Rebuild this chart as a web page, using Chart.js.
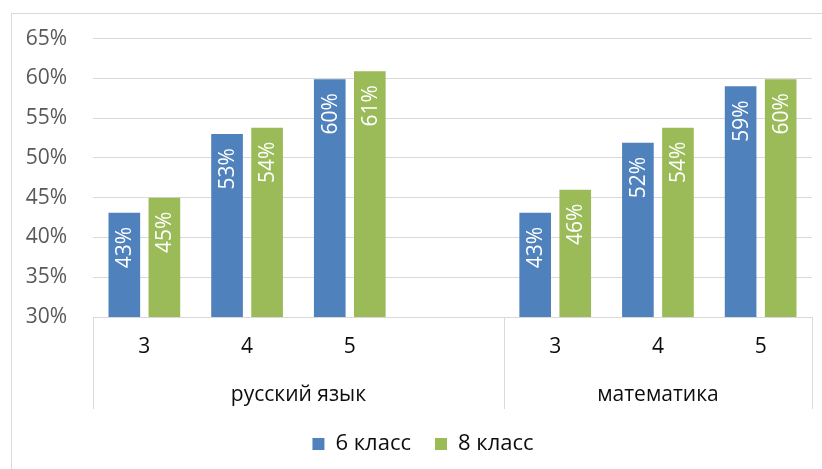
<!DOCTYPE html>
<html>
<head>
<meta charset="utf-8">
<script src="https://cdn.jsdelivr.net/npm/chart.js@4"></script>
<style>
  html, body { margin: 0; padding: 0; background: #fff; }
  #wrap { width: 822px; height: 469px; }
</style>
</head>
<body>
<div id="wrap"><canvas id="chart-area" width="822" height="469"></canvas></div>
<script>
var grades = ['3', '4', '5', '', '3', '4', '5'];
var subjects = ['русский язык', 'математика'];
var subjectSpans = [[0, 3], [4, 6]];
var class6 = [43.1, 53.0, 59.9, null, 43.1, 51.9, 59.0];
var class8 = [45.0, 53.8, 60.9, null, 46.0, 53.8, 59.9];
var seriesNames = ['6 класс', '8 класс'];

var chartColors = {
  blue: '#4f81bd',
  green: '#9bbb59',
  grid: '#d9d9d9',
  axisText: '#595959',
  text: '#0d0d0d'
};
var FONT = "'Open Sans', sans-serif";

// rotated value labels inside the top of each bar
var barLabels = {
  id: 'barLabels',
  afterDatasetsDraw: function(chart) {
    var ctx = chart.ctx;
    chart.data.datasets.forEach(function(ds, i) {
      var meta = chart.getDatasetMeta(i);
      meta.data.forEach(function(bar, j) {
        var v = ds.data[j];
        if (v === null) return;
        ctx.save();
        ctx.translate(bar.x, bar.y + 14);
        ctx.rotate(-Math.PI / 2);
        ctx.font = '21px ' + FONT;
        ctx.fillStyle = '#fff';
        ctx.textAlign = 'right';
        ctx.textBaseline = 'middle';
        ctx.fillText(Math.round(v) + '%', 0, 1);
        ctx.restore();
      });
    });
  }
};

// outer frame, group separators and subject labels
var frameAndGroups = {
  id: 'frameAndGroups',
  afterLayout: function(chart) {
    // legend sits a bit right of the canvas centre in the original
    if (chart.legend) chart.legend.left += 34;
  },
  beforeDraw: function(chart) {
    var ctx = chart.ctx;
    ctx.save();
    ctx.strokeStyle = chartColors.grid;
    ctx.lineWidth = 1;
    ctx.strokeRect(11.5, 13.5, 1000, 1000);
    ctx.restore();
  },
  afterDraw: function(chart) {
    var ctx = chart.ctx;
    var x = chart.scales.x;
    var area = chart.chartArea;
    var step = (area.right - area.left) / grades.length;
    var top = area.bottom;
    var bottom = x.bottom;
    ctx.save();
    ctx.strokeStyle = chartColors.grid;
    ctx.lineWidth = 1;
    var edges = [area.left];
    subjectSpans.forEach(function(s) { edges.push(area.left + (s[1] + 1) * step); });
    edges.forEach(function(ex) {
      var px = Math.round(ex) + 0.5;
      ctx.beginPath();
      ctx.moveTo(px, top);
      ctx.lineTo(px, bottom);
      ctx.stroke();
    });
    ctx.font = '21px ' + FONT;
    ctx.fillStyle = chartColors.text;
    ctx.textAlign = 'center';
    ctx.textBaseline = 'middle';
    subjects.forEach(function(name, k) {
      var s = subjectSpans[k];
      var left = area.left + s[0] * step;
      var right = area.left + (s[1] + 1) * step;
      ctx.fillText(name, (left + right) / 2, 395);
    });
    ctx.restore();
  }
};

var config = {
  type: 'bar',
  data: {
    labels: grades,
    datasets: [{
      label: seriesNames[0],
      data: class6,
      backgroundColor: chartColors.blue,
      barPercentage: 0.79,
      categoryPercentage: 0.78
    }, {
      label: seriesNames[1],
      data: class8,
      backgroundColor: chartColors.green,
      barPercentage: 0.79,
      categoryPercentage: 0.78
    }]
  },
  options: {
    responsive: false,
    animation: false,
    layout: { padding: { top: 37, right: 10, bottom: 4, left: 0 } },
    plugins: {
      legend: {
        display: true,
        position: 'bottom',
        labels: {
          boxWidth: 12,
          boxHeight: 12,
          padding: 24,
          color: chartColors.text,
          font: { family: FONT, size: 22 }
        }
      },
      tooltip: { enabled: false }
    },
    scales: {
      y: {
        min: 30,
        max: 65,
        ticks: {
          stepSize: 5,
          padding: 26,
          color: chartColors.axisText,
          font: { family: FONT, size: 21 },
          callback: function(v) { return v + '%'; }
        },
        grid: { color: chartColors.grid, drawTicks: false },
        border: { display: false },
        afterFit: function(scale) { scale.width = 93; }
      },
      x: {
        ticks: {
          padding: 17,
          color: chartColors.text,
          font: { family: FONT, size: 21 }
        },
        grid: { display: false, drawTicks: false },
        border: { color: chartColors.grid },
        afterFit: function(scale) { scale.height = 92; }
      }
    }
  },
  plugins: [barLabels, frameAndGroups]
};

window.onload = function() {
  var ctx = document.getElementById('chart-area').getContext('2d');
  window.myBar = new Chart(ctx, config);
};
</script>
</body>
</html>
